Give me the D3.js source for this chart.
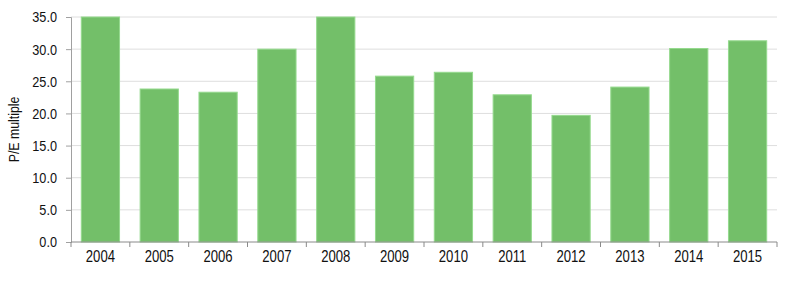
<!DOCTYPE html>
<html>
<head>
<meta charset="utf-8">
<script src="https://cdn.jsdelivr.net/npm/d3@7"></script>
<style>
  body { margin: 0; background: #fff; }
  svg text { font-family: "Liberation Sans", Arial, sans-serif; fill: #111; }
</style>
</head>
<body>
<div id="chart"></div>
<script>
const years = ["2004", "2005", "2006", "2007", "2008", "2009", "2010", "2011", "2012", "2013", "2014", "2015"];
const peValues = [35.0, 23.8, 23.3, 30.0, 35.0, 25.8, 26.4, 22.9, 19.7, 24.1, 30.1, 31.3];
const yTicks = [0, 5, 10, 15, 20, 25, 30, 35];
const yTitle = "P/E multiple";

const width = 800, height = 293;
const margin = { top: 17, right: 23, bottom: 51, left: 71 };
const w = width - margin.left - margin.right;
const h = height - margin.top - margin.bottom;
// no narrow font installed, so squeeze the text horizontally
const narrow = 0.82;

const svg = d3.select("#chart").append("svg")
    .attr("width", width)
    .attr("height", height);

const g = svg.append("g")
    .attr("transform", "translate(" + margin.left + "," + margin.top + ")");

const xScale = d3.scaleBand()
    .domain(years)
    .range([0, w])
    .paddingInner(0.35)
    .paddingOuter(0.175);

const yScale = d3.scaleLinear()
    .domain([0, 35])
    .range([h, 0]);

// gridlines
g.append("g")
    .selectAll("line")
    .data(yTicks.filter(d => d > 0))
    .enter().append("line")
    .attr("x1", 0)
    .attr("x2", w)
    .attr("y1", d => yScale(d))
    .attr("y2", d => yScale(d))
    .attr("stroke", "#dedede")
    .attr("stroke-width", 1);

// bars
g.append("g")
    .selectAll("rect")
    .data(years)
    .enter().append("rect")
    .attr("x", d => xScale(d))
    .attr("y", (d, i) => yScale(peValues[i]))
    .attr("width", xScale.bandwidth())
    .attr("height", (d, i) => h - yScale(peValues[i]))
    .attr("fill", "#73bf69")
    .attr("stroke", "#95da8e")
    .attr("stroke-width", 1);

// y axis
const yAxis = d3.axisLeft(yScale)
    .tickValues(yTicks)
    .tickSize(5)
    .tickFormat(d3.format(".1f"));

const yG = g.append("g").call(yAxis);
yG.select(".domain").attr("stroke", "#a0a0a0");
yG.selectAll(".tick line").attr("stroke", "#a0a0a0");
yG.selectAll(".tick text")
    .attr("x", -14 / narrow)
    .attr("transform", "scale(" + narrow + ",1)")
    .style("font-size", "15.5px")
    .attr("fill", "#111");

// x axis: ticks at category boundaries
const bounds = years.map(d => xScale(d) - xScale.step() * xScale.paddingInner() / 2);
bounds.push(w);

const xG = g.append("g").attr("transform", "translate(0," + h + ")");
xG.append("line")
    .attr("x1", 0).attr("x2", w)
    .attr("y1", 0).attr("y2", 0)
    .attr("stroke", "#8a8a8a");
xG.selectAll(".bt")
    .data(bounds)
    .enter().append("line")
    .attr("class", "bt")
    .attr("x1", d => d).attr("x2", d => d)
    .attr("y1", 0).attr("y2", 5)
    .attr("stroke", "#8a8a8a");
xG.selectAll("text")
    .data(years)
    .enter().append("text")
    .attr("x", d => (xScale(d) + xScale.bandwidth() / 2) / narrow)
    .attr("y", 20)
    .attr("transform", "scale(" + narrow + ",1)")
    .attr("text-anchor", "middle")
    .style("font-size", "16px")
    .text(d => d);

// y title
svg.append("text")
    .attr("transform", "translate(19," + (margin.top + h / 2) + ") rotate(-90) scale(" + narrow + ",1)")
    .attr("text-anchor", "middle")
    .style("font-size", "15px")
    .text(yTitle);
</script>
</body>
</html>
